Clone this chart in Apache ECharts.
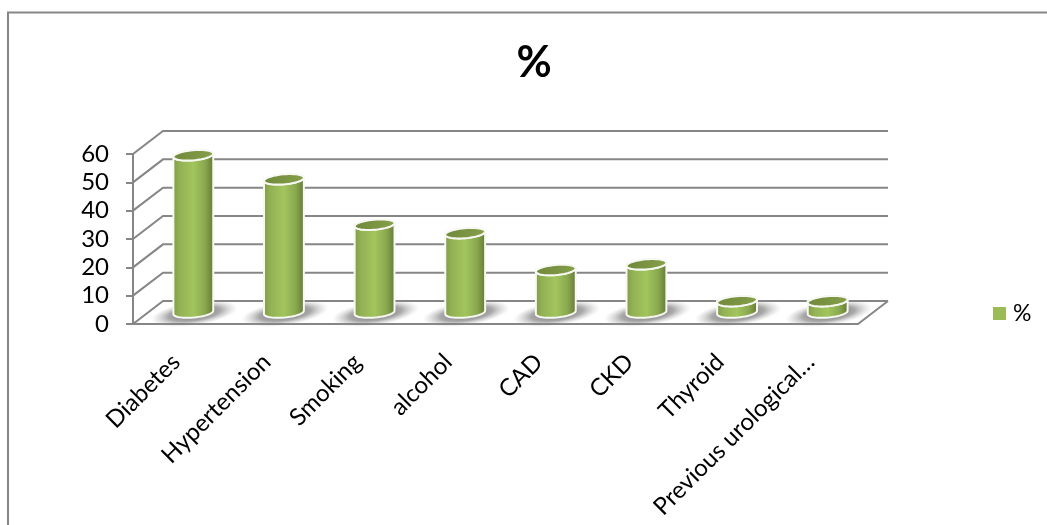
<!DOCTYPE html>
<html>
<head>
<meta charset="utf-8">
<style>html,body{margin:0;padding:0;background:#fff}#chart{width:1047px;height:525px}</style>
<script src="https://cdn.jsdelivr.net/npm/echarts@6/dist/echarts.min.js"></script>
</head>
<body>
<div id="chart"></div>
<script>
// Prevalence of comorbidities, percent of patients
const categories = ['Diabetes', 'Hypertension', 'Smoking', 'alcohol', 'CAD', 'CKD', 'Thyroid', 'Previous urological…'];
const percentValues = [55.5, 47, 31, 28, 15, 17, 4, 4];
const valueTicks = [0, 10, 20, 30, 40, 50, 60];
const seriesName = '%';

// Oblique projection of the chart's depth axis, in pixels
const DEPTH_X = 30;
const DEPTH_Y = -23;
const WALL_COLOR = '#868686';
const RADIUS_X = 20;
const RADIUS_Y = 5;
const TILT = -5 * Math.PI / 180;

// A point on a tilted ellipse around (cx, cy)
function ellipsePoint(cx, cy, angle) {
  const x = RADIUS_X * Math.cos(angle);
  const y = RADIUS_Y * Math.sin(angle);
  return [cx + x * Math.cos(TILT) - y * Math.sin(TILT), cy + x * Math.sin(TILT) + y * Math.cos(TILT)];
}

function ellipseOutline(cx, cy, from, to, steps) {
  const pts = [];
  for (let i = 0; i <= steps; i++) {
    pts.push(ellipsePoint(cx, cy, from + (to - from) * i / steps));
  }
  return pts;
}

// Floor and back wall: one polyline per value tick, running along the side wall and the back
function renderWall(params, api) {
  const value = api.value(0);
  const start = api.coord([0, value]);
  const size = api.size([1, 0]);
  const left = start[0] - size[0] / 2;
  const right = left + size[0] * categories.length;
  const y = start[1];
  const children = [{
    type: 'polyline',
    shape: { points: [[left, y], [left + DEPTH_X, y + DEPTH_Y], [right + DEPTH_X, y + DEPTH_Y]] },
    style: { stroke: WALL_COLOR, lineWidth: 2, fill: null }
  }];
  if (value === 0) {
    children.push({
      type: 'line',
      shape: { x1: right, y1: y, x2: right + DEPTH_X, y2: y + DEPTH_Y },
      style: { stroke: WALL_COLOR, lineWidth: 2 }
    });
  }
  return { type: 'group', children };
}

// Cylinder standing mid-depth on the floor, with a soft floor shadow behind it
function renderCylinder(params, api) {
  const base = api.coord([api.value(0), 0]);
  const head = api.coord([api.value(0), api.value(1)]);
  const cx = base[0] + DEPTH_X / 2;
  const baseY = base[1] + DEPTH_Y / 2;
  const topY = head[1] + DEPTH_Y / 2;
  const body = ellipseOutline(cx, topY, Math.PI, 0, 24)
    .concat(ellipseOutline(cx, baseY, 0, Math.PI, 24));
  const bodyFill = new echarts.graphic.LinearGradient(0, 0, 1, 0, [
    { offset: 0, color: '#7f9a48' },
    { offset: 0.18, color: '#93b254' },
    { offset: 0.5, color: '#a2c55d' },
    { offset: 0.78, color: '#8aa84f' },
    { offset: 1, color: '#5f7733' }
  ]);
  const capFill = new echarts.graphic.LinearGradient(0, 0, 1, 1, [
    { offset: 0, color: '#6f8739' },
    { offset: 1, color: '#87a14c' }
  ]);
  const shadowFill = new echarts.graphic.RadialGradient(0.5, 0.5, 0.5, [
    { offset: 0, color: 'rgba(70,70,70,0.85)' },
    { offset: 0.6, color: 'rgba(100,100,100,0.55)' },
    { offset: 1, color: 'rgba(170,170,170,0)' }
  ]);
  return {
    type: 'group',
    children: [
      {
        type: 'circle',
        x: cx + 1,
        y: baseY + 1,
        scaleX: 44,
        scaleY: 12,
        rotation: 0.14,
        shape: { cx: 0, cy: 0, r: 1 },
        style: { fill: shadowFill }
      },
      {
        type: 'polygon',
        shape: { points: body },
        style: { fill: bodyFill, stroke: '#f7f8f2', lineWidth: 2 }
      },
      {
        type: 'polygon',
        shape: { points: ellipseOutline(cx, topY, 0, Math.PI * 2, 48) },
        style: { fill: capFill, stroke: '#f7f8f2', lineWidth: 2 }
      }
    ]
  };
}

const chart = echarts.init(document.getElementById('chart'), null, { renderer: 'canvas' });
chart.setOption({
  animation: false,
  backgroundColor: '#ffffff',
  textStyle: { fontFamily: 'Lato' },
  title: {
    text: '%',
    left: 529,
    top: 37,
    textAlign: 'center',
    textStyle: { fontFamily: 'Lato', fontSize: 43, fontWeight: 'bold', color: '#000000' }
  },
  legend: {
    data: [seriesName],
    left: 993,
    top: 302,
    padding: 0,
    icon: 'rect',
    itemWidth: 13,
    itemHeight: 13,
    textStyle: { fontFamily: 'Lato', fontSize: 23, color: '#000000', padding: [0, 0, 0, 2] }
  },
  graphic: [{
    type: 'polyline',
    silent: true,
    shape: { points: [[8, 525], [8, 12.5], [1047, 12.5]] },
    style: { stroke: '#868686', lineWidth: 2, fill: null }
  }],
  grid: { left: 133, right: 189, top: 154, bottom: 201 },
  xAxis: {
    type: 'category',
    data: categories,
    axisLine: { lineStyle: { color: WALL_COLOR, width: 2 } },
    axisTick: { length: 7, alignWithLabel: false, lineStyle: { color: WALL_COLOR, width: 2 } },
    axisLabel: { rotate: 45, interval: 0, margin: 32, padding: [0, 3, 0, 0], fontFamily: 'Lato', fontSize: 24, color: '#000000' }
  },
  yAxis: {
    type: 'value',
    min: 0,
    max: 60,
    interval: 10,
    axisLine: { show: true, lineStyle: { color: WALL_COLOR, width: 2 } },
    axisTick: { show: true, length: 7, lineStyle: { color: WALL_COLOR, width: 2 } },
    splitLine: { show: false },
    axisLabel: { margin: 24, padding: [5, 0, 0, 0], fontFamily: 'Lato', fontSize: 24, color: '#000000' }
  },
  series: [
    {
      name: 'walls',
      type: 'custom',
      silent: true,
      z: 1,
      clip: false,
      renderItem: renderWall,
      encode: { y: 0 },
      data: valueTicks.map(v => [v])
    },
    {
      name: seriesName,
      type: 'custom',
      z: 3,
      clip: false,
      itemStyle: { color: '#9bbb59' },
      renderItem: renderCylinder,
      encode: { x: 0, y: 1 },
      data: percentValues.map((v, i) => [i, v])
    }
  ]
});
</script>
</body>
</html>
